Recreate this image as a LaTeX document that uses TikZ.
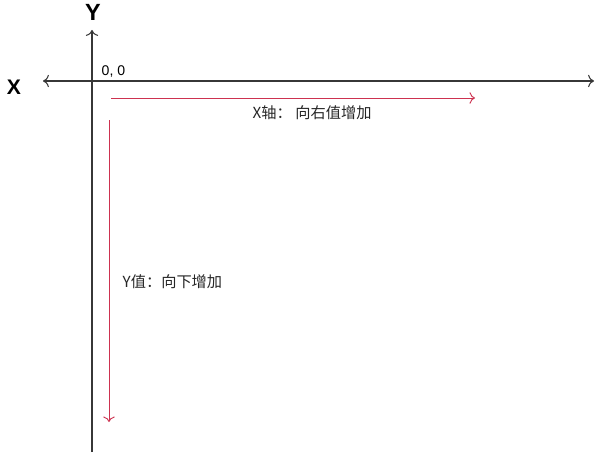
\documentclass[tikz,border=0pt]{standalone}
\usepackage{fontspec}
\setmainfont{Liberation Sans}
\newfontfamily\cjk{Noto Sans CJK SC}
\usetikzlibrary{positioning,arrows.meta}
\definecolor{axisgray}{RGB}{55,55,55}
\definecolor{dirred}{RGB}{205,50,80}

\begin{document}
\begin{tikzpicture}[x=0.03cm,y=-0.03cm,>={To[scale=1.4]},
    axis/.style={axisgray,line width=0.9pt},
    dirline/.style={->,dirred,line width=0.8pt},
    dirlabel/.style={font=\cjk\fontsize{13}{15}\selectfont,inner sep=0pt,text=black!85}]
      \useasboundingbox (0,0) rectangle (600,452);
      % axes
      \coordinate (xleft) at (43,81);
      \coordinate (xright) at (594,81);
      \coordinate (ybottom) at (92,452);
      \coordinate (ytop) at (92,30);
      \draw[axis,<->] (xleft) -- (xright);
      \draw[axis,->] (ybottom) -- (ytop);
      \node[font=\bfseries\fontsize{20}{22}\selectfont,inner sep=0pt] (ylab) at (93,12) {Y};
      \node[font=\bfseries\fontsize{18}{20}\selectfont,inner sep=0pt] (xlab) at (14,87) {X};
      \node[font=\fontsize{12}{14}\selectfont,inner sep=0pt,anchor=west] (origin) at (101.5,71) {0, 0};
      % directions
      \coordinate (hstart) at (111,98);
      \coordinate (hend) at (475,98);
      \draw[dirline] (hstart) -- (hend);
      \node[dirlabel,anchor=west] (hlab) at (252.5,112.5) {X轴： 向右值增加};
      \coordinate (vstart) at (109,120);
      \coordinate (vend) at (109,422);
      \draw[dirline] (vstart) -- (vend);
      \node[dirlabel,anchor=west] (vlab) at (122.5,281.5) {Y值：向下增加};
\end{tikzpicture}
\end{document}
